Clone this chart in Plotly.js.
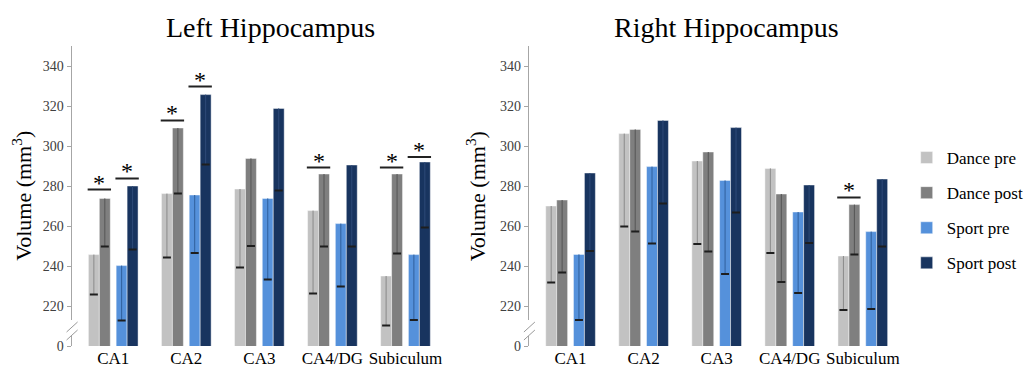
<!DOCTYPE html>
<html>
<head>
<meta charset="utf-8">
<script src="https://cdn.plot.ly/plotly-3.0.1.min.js"></script>
<style>
html,body{margin:0;padding:0;background:#fff;}
#chart{width:1029px;height:372px;}
#chart .xtick text, #chart .ytick text, #chart .x2tick text, #chart .y2tick text, #chart .legendtext, #chart text {
  font-family: "Liberation Serif", "Times New Roman", serif !important;
}
</style>
</head>
<body>
<div id="chart"></div>
<script>
// ---------- data ----------
const categories = ['CA1', 'CA2', 'CA3', 'CA4/DG', 'Subiculum'];
const seriesNames = ['Dance pre', 'Dance post', 'Sport pre', 'Sport post'];
const tickValues = [200, 220, 240, 260, 280, 300, 320, 340];
const tickLabels = ['0', '220', '240', '260', '280', '300', '320', '340'];

// Left hippocampus: bar tops and lower end of the (downward) error bar
const leftDancePre      = [245.7, 276.2, 278.5, 267.7, 235.0];
const leftDancePreLow   = [225.8, 244.2, 239.2, 226.3, 210.2];
const leftDancePost     = [273.8, 309.0, 293.8, 286.0, 286.0];
const leftDancePostLow  = [249.7, 276.2, 250.0, 249.7, 246.2];
const leftSportPre      = [240.2, 275.5, 273.8, 261.2, 245.7];
const leftSportPreLow   = [212.7, 246.5, 233.2, 229.7, 213.0];
const leftSportPost     = [280.0, 325.7, 318.8, 290.5, 292.0];
const leftSportPostLow  = [248.2, 290.8, 277.8, 249.8, 259.2];

// Right hippocampus
const rightDancePre     = [270.0, 306.2, 292.5, 288.8, 245.0];
const rightDancePreLow  = [231.7, 259.7, 251.0, 246.5, 218.0];
const rightDancePost    = [273.0, 308.3, 297.0, 276.0, 270.7];
const rightDancePostLow = [236.7, 257.2, 247.3, 232.0, 245.7];
const rightSportPre     = [245.8, 289.7, 282.8, 267.0, 257.2];
const rightSportPreLow  = [213.0, 251.3, 236.0, 226.5, 218.5];
const rightSportPost    = [286.5, 312.8, 309.2, 280.5, 283.5];
const rightSportPostLow = [247.5, 271.2, 266.7, 251.5, 249.7];

// Significance markers (panel, category, pair, bracket level)
const sigPanel    = ['left', 'left', 'left', 'left', 'left', 'left', 'left', 'right'];
const sigCategory = ['CA1', 'CA1', 'CA2', 'CA2', 'CA4/DG', 'Subiculum', 'Subiculum', 'Subiculum'];
const sigPair     = ['dance', 'sport', 'dance', 'sport', 'dance', 'dance', 'sport', 'dance'];
const sigLevel    = [278.2, 283.8, 312.8, 329.7, 289.2, 289.2, 294.5, 274.3];

// ---------- styling ----------
const colors = ['#c2c2c2', '#7f7f7f', '#5591db', '#18345f'];
const whiskerColors = ['#8a8a8a', '#555555', '#2f5f9c', '#2e4a78'];
const offsets = [-0.34, -0.19, 0.04, 0.19];
const barWidth = 0.15;
const serif = 'Liberation Serif';

function barTrace(i, tops, lows, xa, ya, showLegend) {
  return {
    type: 'bar',
    name: seriesNames[i],
    legendgroup: 'g' + i,
    showlegend: showLegend,
    x: categories,
    y: tops,
    xaxis: xa, yaxis: ya,
    offset: offsets[i],
    width: barWidth,
    marker: {color: colors[i], line: {color: 'rgba(255,255,255,0.45)', width: 1}},
    error_y: {
      type: 'data', symmetric: false,
      array: tops.map(() => 0),
      arrayminus: tops.map((t, k) => t - lows[k]),
      color: whiskerColors[i], thickness: 1, width: 0
    },
    hoverinfo: 'skip'
  };
}
// transparent companion bars that only carry the bold cap at the lower end
function capTrace(i, lows, xa, ya) {
  return {
    type: 'bar',
    name: seriesNames[i] + ' cap',
    legendgroup: 'g' + i,
    showlegend: false,
    x: categories,
    y: lows,
    xaxis: xa, yaxis: ya,
    offset: offsets[i],
    width: barWidth,
    marker: {color: 'rgba(0,0,0,0)', line: {width: 0}},
    error_y: {type: 'data', symmetric: false, array: lows.map(() => 0), arrayminus: lows.map(() => 0),
              color: '#1e1e1e', thickness: 2, width: 4},
    hoverinfo: 'skip'
  };
}

const leftSets = [[leftDancePre, leftDancePreLow], [leftDancePost, leftDancePostLow],
                  [leftSportPre, leftSportPreLow], [leftSportPost, leftSportPostLow]];
const rightSets = [[rightDancePre, rightDancePreLow], [rightDancePost, rightDancePostLow],
                   [rightSportPre, rightSportPreLow], [rightSportPost, rightSportPostLow]];

const data = [];
leftSets.forEach((s, i) => data.push(barTrace(i, s[0], s[1], 'x', 'y', true)));
rightSets.forEach((s, i) => data.push(barTrace(i, s[0], s[1], 'x2', 'y2', false)));
leftSets.forEach((s, i) => data.push(capTrace(i, s[1], 'x', 'y')));
rightSets.forEach((s, i) => data.push(capTrace(i, s[1], 'x2', 'y2')));

const shapes = [];
const annotations = [];

// significance brackets and stars
sigLevel.forEach((lv, k) => {
  const ci = categories.indexOf(sigCategory[k]);
  const xr = sigPanel[k] === 'left' ? 'x' : 'x2';
  const yr = sigPanel[k] === 'left' ? 'y' : 'y2';
  const a = sigPair[k] === 'dance' ? offsets[0] : offsets[2];
  const b = a + 2 * barWidth;
  shapes.push({type: 'line', xref: xr, yref: yr, x0: ci + a - 0.01, x1: ci + b + 0.01, y0: lv, y1: lv,
               line: {color: '#222', width: 2}});
  annotations.push({xref: xr, yref: yr, x: ci + (a + b) / 2, y: lv, text: '*', showarrow: false,
                    yanchor: 'middle', yshift: 7, font: {family: serif, size: 24, color: '#000'}});
});

// axis break marks
[['x', 'y'], ['x2', 'y2']].forEach(([xa, ya]) => {
  const xd = xa + ' domain';
  shapes.push({type: 'rect', layer: 'above', xref: xd, yref: ya, xsizemode: 'pixel', ysizemode: 'pixel',
               xanchor: 0, yanchor: 209, x0: -2, x1: 2, y0: -8, y1: 8, fillcolor: '#fff', line: {width: 0}});
  [205.5, 209.5].forEach(yc => {
    shapes.push({type: 'line', layer: 'above', xref: xd, yref: ya, xsizemode: 'pixel', ysizemode: 'pixel',
                 xanchor: 0, yanchor: yc, x0: -5, x1: 6, y0: -5, y1: 5, line: {color: '#999', width: 1}});
  });
});

// panel titles and y-axis titles
annotations.push({xref: 'paper', yref: 'paper', x: 272 / 1029, y: (372 - 27) / 372, text: 'Left Hippocampus',
                  showarrow: false, xanchor: 'center', yanchor: 'middle', font: {family: serif, size: 28, color: '#000'}});
annotations.push({xref: 'paper', yref: 'paper', x: 731 / 1029, y: (372 - 27) / 372, text: 'Right Hippocampus',
                  showarrow: false, xanchor: 'center', yanchor: 'middle', font: {family: serif, size: 28, color: '#000'}});
annotations.push({xref: 'paper', yref: 'paper', x: 22 / 1029, y: (372 - 196) / 372, text: 'Volume (mm<sup>3</sup>)',
                  textangle: -90, showarrow: false, xanchor: 'center', yanchor: 'middle', font: {family: serif, size: 22, color: '#000'}});
annotations.push({xref: 'paper', yref: 'paper', x: 479 / 1029, y: (372 - 196) / 372, text: 'Volume (mm<sup>3</sup>)',
                  textangle: -90, showarrow: false, xanchor: 'center', yanchor: 'middle', font: {family: serif, size: 22, color: '#000'}});

function xAxis(dom) {
  return {domain: dom, type: 'category', categoryorder: 'array', categoryarray: categories,
          range: [-0.57, 4.5], showline: false, ticks: '', showgrid: false, zeroline: false,
          tickfont: {family: serif, size: 17, color: '#000'}, fixedrange: true};
}
function yAxis(anchor) {
  return {domain: [26 / 372, 326 / 372], anchor: anchor, range: [200, 350],
          tickmode: 'array', tickvals: tickValues, ticktext: tickLabels,
          showline: true, linecolor: '#a6a6a6', linewidth: 1,
          ticks: 'outside', ticklen: 4, tickcolor: '#a6a6a6',
          showgrid: false, zeroline: false,
          tickfont: {family: serif, size: 14, color: '#404040'}, fixedrange: true};
}

const layout = {
  width: 1029, height: 372,
  margin: {l: 0, r: 0, t: 0, b: 0},
  font: {family: serif, color: '#000'},
  paper_bgcolor: '#fff', plot_bgcolor: '#fff',
  barmode: 'overlay',
  showlegend: true,
  xaxis: Object.assign(xAxis([72 / 1029, 444.6 / 1029]), {anchor: 'y'}),
  yaxis: yAxis('x'),
  xaxis2: Object.assign(xAxis([532 / 1029, 904.6 / 1029]), {anchor: 'y2'}),
  yaxis2: yAxis('x2'),
  legend: {x: 912 / 1029, y: (372 - 140) / 372, xanchor: 'left', yanchor: 'top',
           font: {family: serif, size: 17, color: '#000'}, tracegroupgap: 10,
           bgcolor: 'rgba(0,0,0,0)', borderwidth: 0},
  shapes: shapes,
  annotations: annotations
};

Plotly.newPlot('chart', data, layout, {displayModeBar: false, staticPlot: true});
</script>
</body>
</html>
